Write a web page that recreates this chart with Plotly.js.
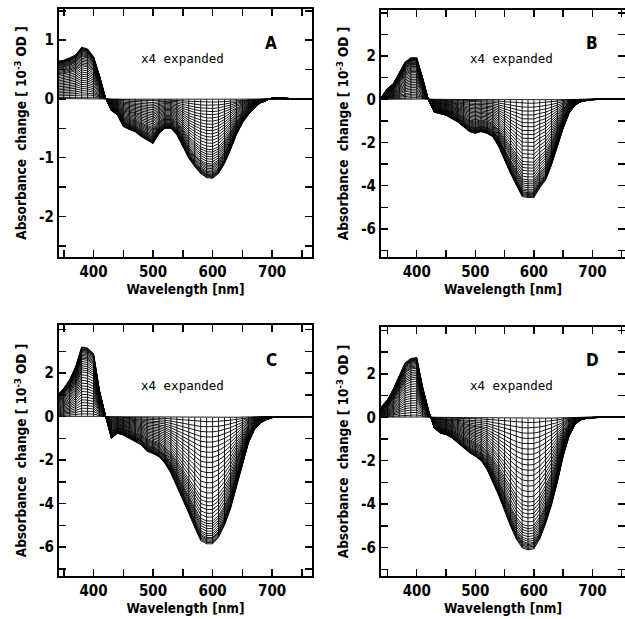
<!DOCTYPE html>
<html>
<head>
<meta charset="utf-8">
<script src="https://cdn.plot.ly/plotly-3.0.1.min.js"></script>
<style>html,body{margin:0;padding:0;background:#fff;}#chart{width:625px;height:619px;}</style>
</head>
<body>
<div id="chart"></div>
<script>
// Wavelength grid (nm)
const wavelengths = [340,350,360,370,380,390,400,410,420,430,440,450,460,470,480,490,500,510,520,530,540,550,560,570,580,590,600,610,620,630,640,650,660,670,680,690,700,710,720,730,740,750,760,770];

// Largest (final) difference spectrum in each panel, 10^-3 OD
const spectrumA = [0.64,0.66,0.70,0.75,0.88,0.85,0.72,0.40,0.02,-0.20,-0.27,-0.47,-0.52,-0.56,-0.64,-0.70,-0.76,-0.59,-0.50,-0.50,-0.61,-0.81,-1.01,-1.15,-1.27,-1.34,-1.35,-1.27,-1.10,-0.87,-0.61,-0.41,-0.27,-0.16,-0.07,-0.03,0.02,0.02,0.01,0,0,0,0,0];
const spectrumB = [0.10,0.50,0.72,1.20,1.72,1.92,1.92,1.00,-0.05,-0.60,-0.66,-0.74,-0.90,-1.05,-1.28,-1.50,-1.58,-1.50,-1.58,-1.74,-2.20,-2.82,-3.43,-3.97,-4.50,-4.55,-4.55,-4.10,-3.74,-3.05,-2.20,-1.35,-0.66,-0.28,-0.12,-0.05,-0.02,0,0,0,0,0,0,0];
const spectrumC = [1.00,1.30,1.70,2.30,3.20,3.15,2.90,1.20,0.05,-1.00,-0.77,-0.85,-1.00,-1.15,-1.30,-1.60,-1.70,-1.85,-2.15,-2.60,-3.20,-3.85,-4.45,-5.10,-5.70,-5.85,-5.85,-5.55,-5.00,-4.25,-3.23,-2.15,-1.23,-0.62,-0.30,-0.15,-0.05,-0.02,0,0,0,0,0,0];
const spectrumD = [0.50,0.80,1.30,1.90,2.50,2.70,2.75,1.40,0.33,-0.50,-0.73,-0.80,-0.95,-1.18,-1.40,-1.63,-1.80,-2.00,-2.40,-3.00,-3.60,-4.30,-5.00,-5.60,-6.00,-6.10,-6.05,-5.60,-4.90,-4.05,-3.00,-1.80,-0.88,-0.35,-0.12,-0.05,-0.02,0,0,0,0,0,0,0];

// Relative amplitude of each successive spectrum in the time series
const amplitudes = [0.01,0.04,0.08,0.12,0.16,0.20,0.24,0.28,0.32,0.36,0.40,0.44,0.48,0.52,0.56,0.60,0.64,0.67,0.70,0.73,0.76,0.79,0.82,0.84,0.86,0.88,0.90,0.92,0.935,0.95,0.96,0.97,0.98,0.99,1.00];

// Tick labels
const xTickVals = [400,500,600,700];
const xTickText = ['400','500','600','700'];
const yTickValsA = [-2,-1,0,1];
const yTickTextA = ['-2','-1','0','1'];
const yTickValsB = [-6,-4,-2,0,2];
const yTickTextB = ['-6','-4','-2','0','2'];

const panelLetters = ['A','B','C','D'];
const expandedText = 'x4 expanded';
const xTitle = 'Wavelength [nm]';
const yTitle = 'Absorbance&#160;&#160;change [ 10<sup>-3</sup> OD ]';

const spectra = [spectrumA, spectrumB, spectrumC, spectrumD];

const traces = [];
spectra.forEach((spec, i) => {
  const ax = i === 0 ? '' : String(i + 1);
  const xs = [], ys = [];
  amplitudes.forEach(a => {
    wavelengths.forEach((w, k) => { xs.push(w); ys.push(a * spec[k]); });
    xs.push(null); ys.push(null);
  });
  traces.push({x: xs, y: ys, type: 'scatter', mode: 'lines', xaxis: 'x' + ax, yaxis: 'y' + ax,
    line: {color: '#000', width: 0.9}, hoverinfo: 'skip', showlegend: false});
  const vx = [], vy = [];
  wavelengths.forEach((w, k) => {
    if (spec[k] !== 0) { vx.push(w, w, null); vy.push(amplitudes[0] * spec[k], spec[k], null); }
  });
  traces.push({x: vx, y: vy, type: 'scatter', mode: 'lines', xaxis: 'x' + ax, yaxis: 'y' + ax,
    line: {color: '#000', width: 0.9}, hoverinfo: 'skip', showlegend: false});
});

const W = 625, H = 619;
const boxes = [
  {l: 59, r: 312, t: 9, b: 257, xr: [342, 767], yr: [-2.69, 1.53]},
  {l: 381, r: 625, t: 10, b: 257, xr: [339, 755.6], yr: [-7.3, 4.13]},
  {l: 59, r: 312, t: 325, b: 576, xr: [342, 767], yr: [-7.33, 4.21]},
  {l: 381, r: 625, t: 327, b: 576, xr: [339, 755.6], yr: [-7.3, 4.15]}
];
const fam = 'DejaVu Sans Condensed, Liberation Sans Narrow, DejaVu Sans, sans-serif';
const tickFont = {family: fam, size: 15, color: '#000', weight: 'bold'};
const titleFont = {family: fam, size: 13.5, color: '#000', weight: 'bold'};

const layout = {
  width: W, height: H,
  margin: {l: 0, r: 0, t: 0, b: 0},
  paper_bgcolor: '#fff', plot_bgcolor: '#fff',
  showlegend: false,
  annotations: []
};
boxes.forEach((bx, i) => {
  const ax = i === 0 ? '' : String(i + 1);
  const common = {showgrid: false, zeroline: false, showline: true, linecolor: '#000', linewidth: 2,
    mirror: 'ticks', ticks: 'inside', ticklen: 7, tickwidth: 1.5, tickcolor: '#000', tickfont: tickFont,
    automargin: false, fixedrange: true, tickmode: 'array'};
  layout['xaxis' + ax] = Object.assign({}, common, {
    domain: [bx.l / W, bx.r / W], range: bx.xr, anchor: 'y' + ax,
    tickvals: xTickVals, ticktext: xTickText,
    minor: {tickmode: 'linear', tick0: 0, dtick: 50, ticks: 'inside', ticklen: 7, tickwidth: 1.5, tickcolor: '#000', showgrid: false},
    title: {text: xTitle, font: titleFont, standoff: 4}
  });
  layout['yaxis' + ax] = Object.assign({}, common, {
    domain: [1 - bx.b / H, 1 - bx.t / H], range: bx.yr, anchor: 'x' + ax,
    tickvals: i === 0 ? yTickValsA : yTickValsB, ticktext: i === 0 ? yTickTextA : yTickTextB,
    minor: {tickmode: 'linear', tick0: 0, dtick: i === 0 ? 0.5 : 1, ticks: 'inside', ticklen: 7, tickwidth: 1.5, tickcolor: '#000', showgrid: false},
    title: {text: yTitle, font: titleFont, standoff: 9}
  });
  const lx = (i % 2 === 0) ? 271 : 592;
  const ly = (i < 2) ? 43 : 360;
  layout.annotations.push({xref: 'paper', yref: 'paper', x: lx / W, y: 1 - ly / H, text: panelLetters[i],
    showarrow: false, xanchor: 'center', yanchor: 'middle', font: {family: fam, size: 17, weight: 'bold', color: '#000'}});
  const ex = (i % 2 === 0) ? 182 : 511;
  const ey = (i < 2) ? 59 : 385;
  layout.annotations.push({xref: 'paper', yref: 'paper', x: ex / W, y: 1 - ey / H, text: expandedText,
    showarrow: false, xanchor: 'center', yanchor: 'middle', font: {family: 'DejaVu Sans Mono, monospace', size: 12.5, color: '#000'}});
});

Plotly.newPlot('chart', traces, layout, {staticPlot: true, displayModeBar: false});
</script>
</body>
</html>
